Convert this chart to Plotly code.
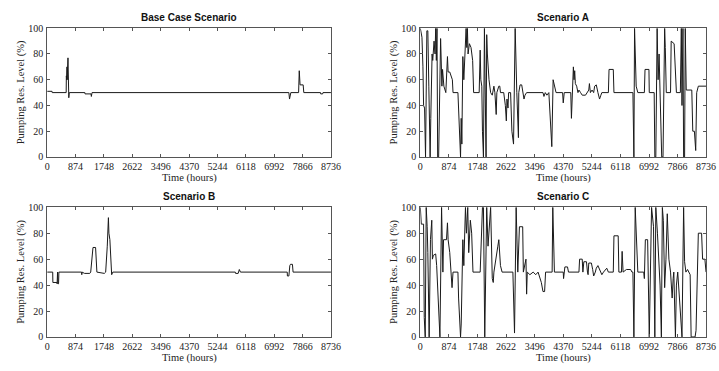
import plotly.graph_objects as go
from plotly.subplots import make_subplots

# ---------------- data ----------------
tick_hours = [0, 874, 1748, 2622, 3496, 4370, 5244, 6118, 6992, 7866, 8736]
tick_levels = [0, 20, 40, 60, 80, 100]
titles = ["Base Case Scenario", "Scenario A", "Scenario B", "Scenario C"]

base_h = [0, 150, 155, 585, 590, 600, 610, 615, 640, 650, 660, 665, 680, 1160, 1165, 1350, 1360, 1380,
          7440, 7460, 7480, 7500, 7740, 7760, 7785, 7880, 7900, 8415, 8420, 8480, 8490, 8736]
base_v = [51, 51, 50, 50, 63, 60, 70, 60, 77, 62, 60, 46, 50, 50, 49, 49, 47, 50,
          50, 45, 49, 50, 50, 67, 56, 56, 50, 50, 49, 49, 50, 50]

a_h = [0, 50, 80, 100, 130, 150, 160, 200, 230, 260, 280, 300, 320, 340, 360, 380, 420, 450, 470, 490,
       510, 530, 560, 620, 640, 660, 680, 700, 720, 780, 830, 850, 900, 980, 1000, 1150, 1170, 1200,
       1230, 1250, 1270, 1300, 1330, 1400, 1420, 1440, 1460, 1500, 1550, 1600, 1630, 1800, 1830, 1850,
       1880, 1900, 1930, 1960, 1990, 2010, 2030, 2050, 2100, 2150, 2200, 2250, 2280, 2300, 2320, 2340,
       2400, 2430, 2450, 2550, 2600, 2630, 2650, 2680, 2700, 2760, 2800, 2850, 2900, 2950, 3000, 3010,
       3050, 3100, 3150, 3170, 3200, 3250, 3750, 3780, 3820, 3870, 3930, 3980, 4020, 4060, 4100, 4150,
       4350, 4370, 4400, 4600, 4620, 4650, 4680, 4700, 4720, 4740, 4780, 4820, 4850, 4900, 4950, 5050,
       5100, 5150, 5170, 5200, 5250, 5300, 5330, 5380, 5430, 5480, 5520, 5550, 5750, 5770, 5900, 5920,
       6500, 6530, 6550, 6600, 6650, 6850, 6870, 6990, 7000, 7150, 7170, 7200, 7240, 7270, 7300, 7330,
       7360, 7380, 7420, 7450, 7470, 7490, 7520, 7650, 7670, 7760, 7800, 7830, 7950, 7980, 8000, 8030,
       8050, 8080, 8100, 8130, 8300, 8330, 8380, 8400, 8420, 8450, 8500, 8736]
a_v = [100, 93, 70, 40, 38, 0, 0, 98, 98, 55, 30, 0, 30, 70, 80, 75, 90, 80, 100, 75,
       100, 0, 0, 92, 60, 55, 68, 60, 55, 50, 78, 66, 66, 60, 50, 50, 40, 15,
       0, 30, 10, 78, 60, 100, 85, 100, 80, 88, 85, 75, 50, 50, 83, 60,
       55, 20, 0, 100, 0, 0, 95, 80, 60, 50, 48, 55, 50, 40, 33, 50,
       55, 55, 50, 50, 40, 28, 45, 38, 50, 50, 20, 10, 100, 50, 15, 50,
       56, 56, 48, 45, 48, 50, 50, 47, 50, 48, 50, 25, 8, 60, 55, 50,
       50, 42, 50, 50, 30, 62, 70, 60, 67, 57, 55, 50, 52, 50, 48, 48,
       50, 52, 57, 50, 52, 50, 55, 56, 50, 45, 48, 50, 50, 68, 68, 50,
       50, 0, 100, 55, 50, 50, 68, 68, 50, 50, 0, 0, 100, 60, 80, 40,
       20, 0, 0, 95, 100, 85, 50, 50, 90, 88, 70, 50, 50, 100, 40, 100,
       0, 0, 100, 52, 52, 20, 20, 15, 5, 50, 55, 55]

b_h = [0, 170, 175, 300, 305, 320, 330, 350, 360, 1060, 1065, 1075, 1150, 1310, 1340, 1370, 1410, 1490,
       1510, 1530, 1760, 1800, 1850, 1885, 1900, 1930, 1985, 2020, 5790, 5800, 5880, 5915, 5950,
       7390, 7395, 7440, 7470, 7490, 7550, 7570, 8736]
b_v = [50, 50, 42, 42, 41, 50, 41, 41, 50, 50, 48, 50, 49, 49, 50, 60, 69, 69,
       55, 50, 49, 50, 70, 92, 80, 75, 48, 50, 50, 49, 49, 52, 50,
       50, 47, 47, 55, 56, 56, 50, 50]

c_h = [0, 30, 100, 120, 150, 180, 210, 230, 270, 290, 310, 350, 370, 400, 470, 500, 530, 570, 600, 650,
       670, 690, 710, 800, 830, 850, 900, 950, 970, 1000, 1150, 1170, 1200, 1230, 1250, 1300, 1330,
       1380, 1410, 1450, 1480, 1530, 1570, 1610, 1830, 1870, 1900, 1930, 1970, 2030, 2070, 2150, 2200,
       2230, 2250, 2370, 2400, 2450, 2500, 2830, 2850, 2880, 2930, 2980, 3030, 3130, 3150, 3180, 3230,
       3250, 3270, 3350, 3450, 3530, 3600, 3700, 3750, 3800, 3830, 4030, 4050, 4100, 4370, 4380, 4390,
       4420, 4500, 4530, 4850, 4870, 4950, 4970, 5000, 5080, 5110, 5130, 5150, 5230, 5270, 5300, 5350,
       5380, 5430, 5500, 5550, 5600, 5650, 5700, 5750, 5900, 5920, 6050, 6070, 6150, 6170, 6200, 6300,
       6430, 6470, 6500, 6530, 6570, 6650, 6830, 6850, 6880, 6950, 7000, 7070, 7100, 7130, 7170, 7200,
       7250, 7300, 7330, 7350, 7370, 7400, 7430, 7470, 7510, 7550, 7600, 7650, 7700, 7730, 7750, 7800,
       7830, 7870, 7950, 8000, 8050, 8080, 8120, 8170, 8250, 8280, 8400, 8430, 8500, 8600, 8630, 8700, 8736]
c_v = [100, 87, 87, 15, 0, 100, 85, 65, 0, 35, 75, 90, 60, 63, 64, 55, 40, 22, 0, 100,
       65, 50, 75, 75, 88, 75, 65, 45, 38, 50, 50, 30, 15, 0, 10, 75, 55,
       100, 80, 100, 65, 90, 80, 50, 50, 85, 100, 100, 0, 100, 70, 100, 45,
       42, 50, 70, 75, 55, 50, 50, 20, 3, 100, 50, 85, 85, 50, 55, 60,
       33, 50, 48, 50, 48, 50, 42, 35, 35, 50, 50, 100, 50, 50, 45, 50,
       54, 54, 50, 50, 60, 60, 50, 58, 58, 50, 48, 57, 57, 52, 47, 50,
       53, 55, 50, 48, 50, 52, 53, 50, 50, 78, 78, 50, 50, 66, 50, 52,
       52, 50, 50, 0, 100, 50, 50, 45, 75, 75, 0, 100, 90, 85, 0, 100,
       80, 60, 40, 20, 0, 100, 90, 38, 60, 95, 60, 50, 30, 45, 50, 0,
       40, 50, 20, 0, 100, 58, 50, 52, 48, 0, 0, 5, 80, 80, 60, 60, 50]

# ---------------- figure ----------------
W, H = 719, 371
fig = make_subplots(rows=2, cols=2)

series = [(base_h, base_v, 1, 1), (a_h, a_v, 1, 2), (b_h, b_v, 2, 1), (c_h, c_v, 2, 2)]
for h, v, r, c in series:
    fig.add_trace(go.Scatter(x=h, y=v, mode="lines", line=dict(color="#1a1a1a", width=1),
                             showlegend=False, hoverinfo="skip"), row=r, col=c)

xdom_l = [45 / W, 334 / W]
xdom_r = [425 / W, 716 / W]
ydom_t = [(H - 156) / H, (H - 23) / H]
ydom_b = [(H - 342) / H, (H - 208) / H]

serif = "Liberation Serif, Times New Roman, serif"
sans = "Liberation Sans, Arial, sans-serif"
axcolor = "#555555"

common_x = dict(range=[0, 8736], tickvals=tick_hours, ticktext=[str(t) for t in tick_hours],
                ticks="inside", ticklen=3, tickcolor=axcolor, showline=True, linecolor=axcolor,
                linewidth=1, mirror="ticks", showgrid=False, zeroline=False,
                tickfont=dict(family=serif, size=10, color="#222"))
common_y = dict(range=[0, 100], tickvals=tick_levels, ticks="inside", ticklen=3, tickcolor=axcolor,
                showline=True, linecolor=axcolor, linewidth=1, mirror="ticks", showgrid=False,
                zeroline=False, ticklabelstandoff=1, tickfont=dict(family=serif, size=10, color="#222"))

doms = {1: (xdom_l, ydom_t), 2: (xdom_r, ydom_t), 3: (xdom_l, ydom_b), 4: (xdom_r, ydom_b)}
for i in range(1, 5):
    xd, yd = doms[i]
    fig.layout["xaxis" if i == 1 else f"xaxis{i}"].update(domain=xd, **common_x)
    fig.layout["yaxis" if i == 1 else f"yaxis{i}"].update(domain=yd, **common_y)

annotations = []
for i, t in enumerate(titles, start=1):
    xd, yd = doms[i]
    cx = (xd[0] + xd[1]) / 2
    annotations.append(dict(text="<b>" + t + "</b>", x=cx, y=yd[1] + 11 / H, xref="paper", yref="paper",
                            xanchor="center", yanchor="middle", showarrow=False,
                            font=dict(family=sans, size=10, color="#111")))
    annotations.append(dict(text="Time (hours)", x=cx, y=yd[0] - 22 / H, xref="paper", yref="paper",
                            xanchor="center", yanchor="middle", showarrow=False, borderpad=0,
                            font=dict(family=serif, size=10.5, color="#222")))
    annotations.append(dict(text="Pumping Res. Level (%)", x=xd[0] - 27 / W, y=(yd[0] + yd[1]) / 2,
                            xref="paper", yref="paper", xanchor="center", yanchor="middle",
                            textangle=-90, showarrow=False,
                            font=dict(family=serif, size=10.5, color="#222")))

fig.update_layout(width=W, height=H, margin=dict(l=0, r=0, t=0, b=0),
                  paper_bgcolor="white", plot_bgcolor="white", annotations=annotations)

fig.write_html("out.html", config={"displayModeBar": False},
               post_script="document.body.style.margin='0';document.body.style.overflow='hidden';")
